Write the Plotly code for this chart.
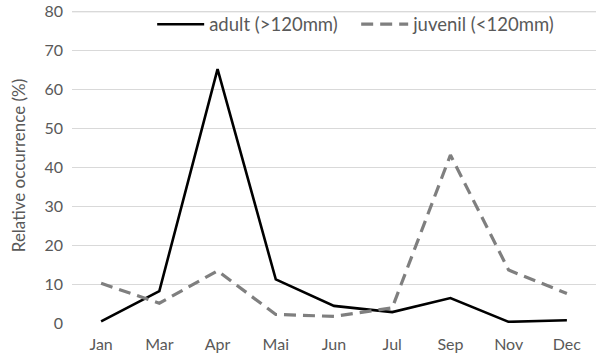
import plotly.graph_objects as go

months = ["Jan", "Mar", "Apr", "Mai", "Jun", "Jul", "Sep", "Nov", "Dec"]
adult = [0.4, 8.2, 65.3, 11.2, 4.4, 2.8, 6.4, 0.3, 0.7]
juvenil = [10.2, 5.1, 13.4, 2.2, 1.7, 3.9, 43.2, 13.6, 7.6]
y_ticks = [0, 10, 20, 30, 40, 50, 60, 70, 80]

FONT = "Lato"
TXT = "#595959"
GRID = "#d9d9d9"

fig = go.Figure()
fig.add_trace(go.Scatter(x=months, y=adult, mode="lines", name="adult (>120mm)",
                         line=dict(color="#000000", width=2.6)))
fig.add_trace(go.Scatter(x=months, y=juvenil, mode="lines", name="juvenil (<120mm)",
                         line=dict(color="#7f7f7f", width=3.2, dash="12px,7px")))

fig.update_layout(
    width=596, height=356,
    margin=dict(l=72, r=0, t=8, b=33, autoexpand=False),
    paper_bgcolor="white", plot_bgcolor="white",
    font=dict(family=FONT, color=TXT, size=16),
    showlegend=True,
    legend=dict(orientation="h", x=0.153, y=0.947, xanchor="left", yanchor="middle",
                font=dict(family=FONT, color=TXT, size=18.5),
                bgcolor="rgba(0,0,0,0)", itemwidth=47,
                entrywidth=142, entrywidthmode="pixels"),
    xaxis=dict(type="category", range=[-0.5, 8.5], showgrid=False, zeroline=False,
               showline=False, ticks="", automargin=False, ticklabelstandoff=10,
               tickfont=dict(size=16, color=TXT, family=FONT)),
    yaxis=dict(range=[0, 81], tickvals=y_ticks, showgrid=True, gridcolor=GRID,
               gridwidth=1, zeroline=False, showline=False, ticks="", automargin=False,
               ticklabeloverflow="allow",
               tickfont=dict(size=16, color=TXT, family=FONT), ticklabelstandoff=8,
               title=dict(text="Relative occurrence (%)", standoff=14,
                          font=dict(size=17, color=TXT, family=FONT))),
)

# make sure the top gridline (at the highest tick) is drawn
fig.add_hline(y=y_ticks[-1], line=dict(color=GRID, width=1), layer="below")

# remove the default 8px page margin so the figure fills the window exactly
fig.write_html("out.html", config={"displayModeBar": False},
               post_script="document.body.style.margin='0';")
